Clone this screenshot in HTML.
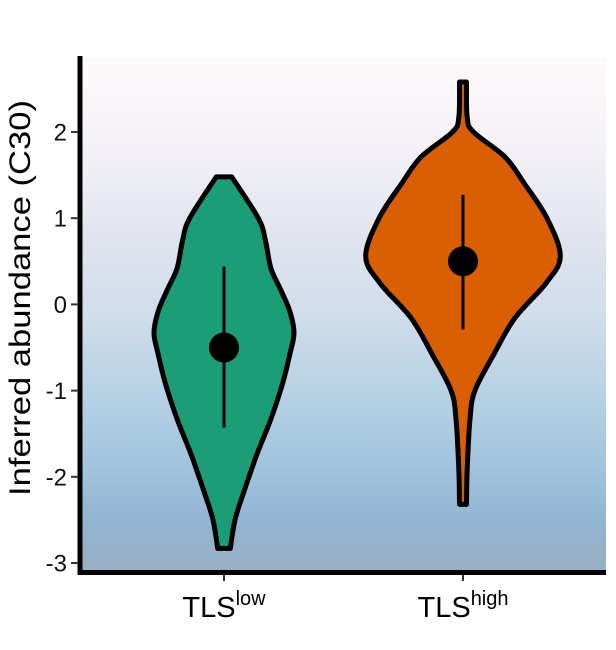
<!DOCTYPE html>
<html><head><meta charset="utf-8"><style>
body{margin:0;background:#fff;}
svg{display:block;font-family:"Liberation Sans",Arial,sans-serif;}
</style></head><body>
<svg id="chart" width="616" height="650">
<defs>
<linearGradient id="bg" x1="0" y1="0" x2="0" y2="1">
<stop offset="0" stop-color="#fdf9fb"/>
<stop offset="0.15" stop-color="#f6f3f8"/>
<stop offset="0.35" stop-color="#e1e4ef"/>
<stop offset="0.5" stop-color="#d0ddeb"/>
<stop offset="0.65" stop-color="#b7d2e5"/>
<stop offset="0.8" stop-color="#a1c3dc"/>
<stop offset="0.9" stop-color="#94b5d2"/>
<stop offset="1" stop-color="#98afc4"/>
</linearGradient>
</defs>
<rect x="82" y="58" width="524" height="513" fill="url(#bg)"/>
<g id="marks"></g>
<line x1="80" y1="56" x2="80" y2="575" stroke="#000" stroke-width="5"/>
<line x1="78" y1="572.5" x2="606" y2="572.5" stroke="#000" stroke-width="5"/>
<g id="yticks"></g>
<text transform="translate(30,298) rotate(-90)" text-anchor="middle" font-size="30" textLength="396" lengthAdjust="spacingAndGlyphs" fill="#000">Inferred abundance (C30)</text>
<text x="224" y="617" text-anchor="middle" font-size="29">TLS<tspan font-size="20" dy="-12">low</tspan></text>
<text x="463" y="617" text-anchor="middle" font-size="29">TLS<tspan font-size="20" dy="-12">high</tspan></text>
</svg>
<script>
const categories=["TLS low","TLS high"];
const colors=["#1b9e77","#d95f02"];
const lowV=[1.48,1.0,0.75,0.42,0.17,-0.08,-0.33,-0.58,-0.91,-1.33,-1.74,-2.16,-2.49,-2.83];
const lowW=[0.11,0.49,0.59,0.67,0.81,0.94,1.0,0.94,0.84,0.67,0.47,0.29,0.16,0.09];
const highV=[2.58,2.17,2.0,1.71,1.41,1.0,0.56,0.25,-0.16,-0.58,-1.0,-1.33,-1.91,-2.32];
const highW=[0.05,0.06,0.15,0.6,0.87,1.2,1.39,1.19,0.74,0.44,0.17,0.10,0.06,0.05];
const medians=[-0.5,0.5];
const whiskLo=[-1.43,-0.29];
const whiskHi=[0.44,1.27];
const yTicks=[2,1,0,-1,-2,-3];
const yTickLabels=["2","1","0","-1","-2","-3"];
const ns="http://www.w3.org/2000/svg";
function y(v){return 304.4-86.2*v;}
function x(i){return 224+i*239;}
function w(d){return d*70;}
const marks=document.getElementById('marks');
function mk(t,a){const e=document.createElementNS(ns,t);for(const k in a)e.setAttribute(k,a[k]);return e;}
function smoothPath(pts){let d="M"+pts[0][0]+","+pts[0][1];for(let i=0;i<pts.length-1;i++){const p0=pts[Math.max(0,i-1)],p1=pts[i],p2=pts[i+1],p3=pts[Math.min(pts.length-1,i+2)];const c1=[p1[0]+(p2[0]-p0[0])/6,p1[1]+(p2[1]-p0[1])/6],c2=[p2[0]-(p3[0]-p1[0])/6,p2[1]-(p3[1]-p1[1])/6];d+=" C"+c1+" "+c2+" "+p2;}return d;}
[[lowV,lowW],[highV,highW]].forEach((s,i)=>{
 const cx=x(i);const vs=s[0],ws=s[1];
 const right=vs.map((v,j)=>[cx+w(ws[j]),y(v)]);
 const left=vs.map((v,j)=>[cx-w(ws[j]),y(v)]).reverse();
 const d=smoothPath(right)+" L"+left[0]+smoothPath(left).replace(/^M[^ C]+/,"")+" Z";
 const p=mk('path',{d:d,fill:colors[i],stroke:'#000','stroke-width':5,'stroke-linejoin':'round'});
 
 
 marks.appendChild(p);
 const l=mk('line',{x1:cx,x2:cx,y1:y(whiskHi[i]),y2:y(whiskLo[i]),stroke:'#000','stroke-width':3});
 
 
 marks.appendChild(l);
 const c=mk('circle',{cx:cx,cy:y(medians[i]),r:15,fill:'#000'});
 
 
 marks.appendChild(c);
 const t=mk('line',{x1:cx,x2:cx,y1:575,y2:581,stroke:'#333','stroke-width':2});
 
 
 marks.appendChild(t);
});
const yt=document.getElementById('yticks');
yTicks.forEach((v,i)=>{
 const t=mk('line',{x1:71,x2:78,y1:y(v),y2:y(v),stroke:'#333','stroke-width':2});
 
 
 yt.appendChild(t);
 const tx=mk('text',{x:67,y:y(v)+8.5,'text-anchor':'end','font-size':24,fill:'#111'});
 tx.textContent=yTickLabels[i];
 
 
 yt.appendChild(tx);
});
</script>
</body></html>
